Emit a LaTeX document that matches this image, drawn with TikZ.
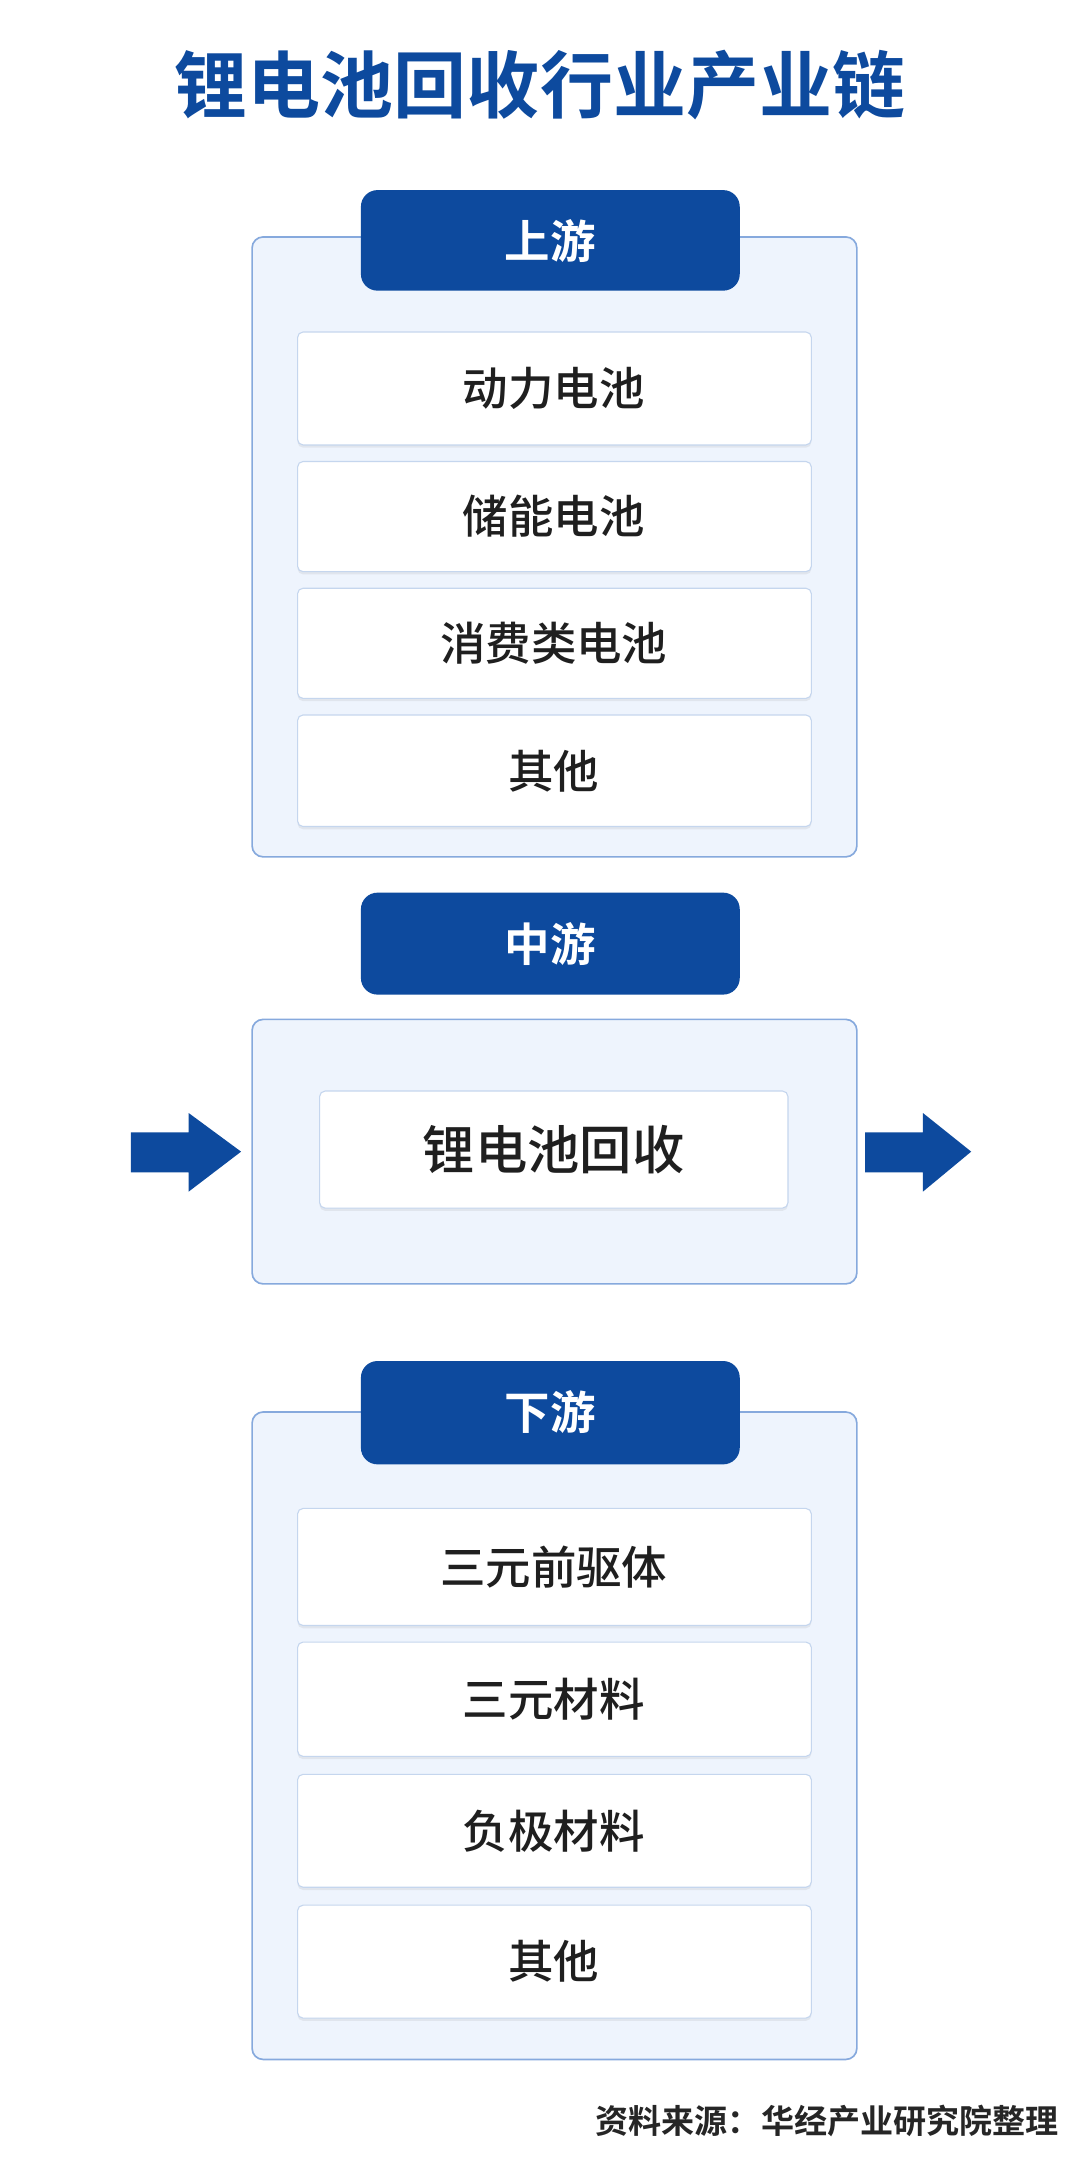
\documentclass[tikz,border=0pt]{standalone}
\usepackage{fontspec}
\setmainfont{Noto Sans CJK SC}
\newfontfamily\cjkb{Noto Sans CJK SC Bold}
\newfontfamily\cjkm{Noto Sans CJK SC Medium}
\usetikzlibrary{shadows}
\definecolor{dblue}{HTML}{0D4A9E}
\definecolor{pfill}{HTML}{EEF4FD}
\definecolor{pline}{HTML}{86A9DD}
\definecolor{iline}{HTML}{C5D6EE}
\begin{document}
\begin{tikzpicture}[x=1pt,y=-1pt,
 panel/.style={draw=pline,line width=1.2pt,fill=pfill,rounded corners=8pt},
 tab/.style={fill=dblue,rounded corners=12pt},
 tabtxt/.style={text=white,font=\cjkb\fontsize{33}{38}\selectfont},
 item/.style={draw=iline,line width=0.8pt,fill=white,rounded corners=4pt,drop shadow={opacity=0.12,shadow xshift=0pt,shadow yshift=-2pt}},
 itxt/.style={font=\cjkm\fontsize{33}{38}\selectfont,text=black!88},
 arr/.style={fill=dblue}]
\useasboundingbox (0,0) rectangle (784,1568);
\fill[white] (0,0) rectangle (784,1568);
\node[font=\cjkb\fontsize{53}{60}\selectfont,text=dblue] (title) at (392,62) {锂电池回收行业产业链};
% upstream
\draw[panel] (183,172) rectangle (622,622);
\fill[tab] (262,138) rectangle (537,211);
\node[tabtxt] (t1) at (399.5,175) {上游};
\foreach \a/\b/\t/\n in {241/323/动力电池/u1,335/415/储能电池/u2,427/507/消费类电池/u3,519/600/其他/u4}{
 \draw[item] (216,\a) rectangle (589,\b);
 \node[itxt] (\n) at (402,{(\a+\b)/2}) {\t};
}
% midstream
\fill[tab] (262,648) rectangle (537,722);
\node[tabtxt] (t2) at (399.5,685) {中游};
\draw[panel] (183,740) rectangle (622,932);
\draw[item] (232,792) rectangle (572,877);
\node[font=\cjkm\fontsize{38}{44}\selectfont,text=black!88] (m1) at (402,834.5) {锂电池回收};
\fill[arr] (95,822) -- (137,822) -- (137,808) -- (175,836) -- (137,865) -- (137,851) -- (95,851) -- cycle;
\fill[arr] (628,822) -- (670,822) -- (670,808) -- (705,836) -- (670,865) -- (670,851) -- (628,851) -- cycle;
% downstream
\draw[panel] (183,1025) rectangle (622,1495);
\fill[tab] (262,988) rectangle (537,1063);
\node[tabtxt] (t3) at (399.5,1025) {下游};
\foreach \a/\b/\t/\n in {1095/1180/三元前驱体/d1,1192/1275/三元材料/d2,1288/1370/负极材料/d3,1383/1465/其他/d4}{
 \draw[item] (216,\a) rectangle (589,\b);
 \node[itxt] (\n) at (402,{(\a+\b)/2}) {\t};
}
\node[anchor=east,font=\cjkb\fontsize{24}{28}\selectfont,text=black!85] (src) at (772,1540) {资料来源：华经产业研究院整理};
\end{tikzpicture}
\end{document}
